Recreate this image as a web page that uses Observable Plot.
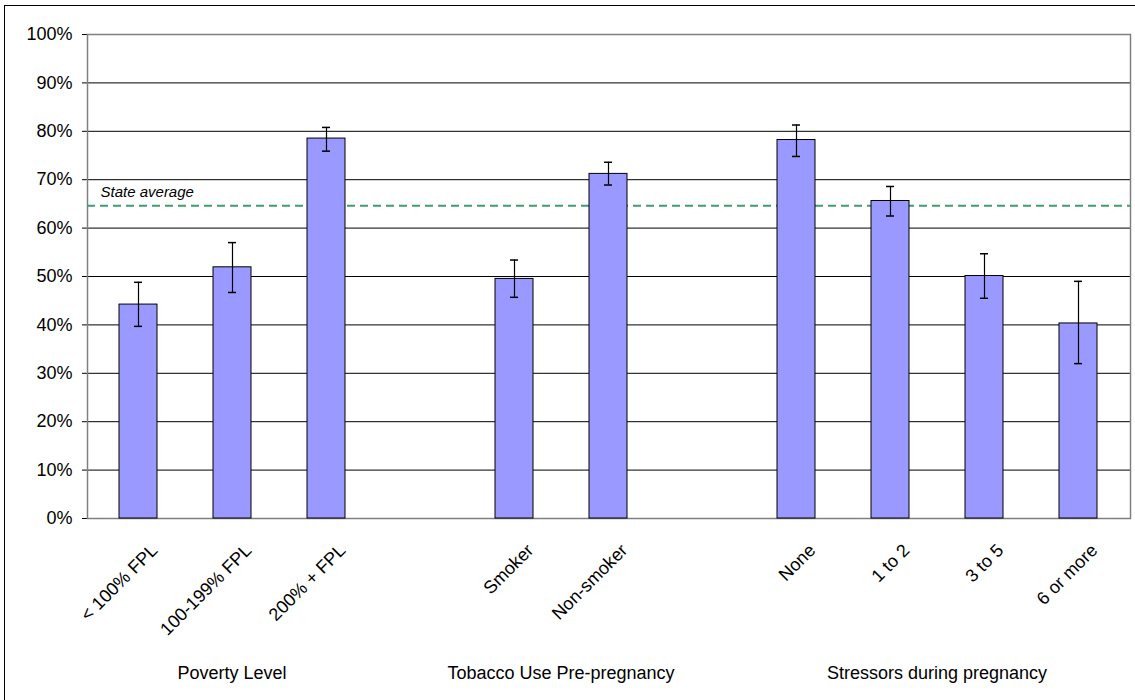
<!DOCTYPE html>
<html>
<head>
<meta charset="utf-8">
<script src="https://cdn.jsdelivr.net/npm/d3@7"></script>
<script src="https://cdn.jsdelivr.net/npm/@observablehq/plot@0.6"></script>
<style>
  html, body { margin: 0; padding: 0; background: #fff; }
  #wrap { position: relative; width: 1135px; height: 700px; overflow: hidden; }
  #border { position: absolute; left: 4px; top: 5px; width: 1200px; height: 800px;
            border-left: 1px solid #000; border-top: 1px solid #000; pointer-events: none; }
  #chart { position: absolute; left: 0; top: 0; }
</style>
</head>
<body>
<div id="wrap"><div id="chart"></div><div id="border"></div></div>
<script>
// ---- data ----
const categories = ["< 100% FPL", "100-199% FPL", "200% + FPL", "Smoker", "Non-smoker", "None", "1 to 2", "3 to 5", "6 or more"];
const groupOf = ["Poverty Level", "Poverty Level", "Poverty Level",
  "Tobacco Use Pre-pregnancy", "Tobacco Use Pre-pregnancy",
  "Stressors during pregnancy", "Stressors during pregnancy", "Stressors during pregnancy", "Stressors during pregnancy"];
const values = [44.2, 51.9, 78.5, 49.5, 71.2, 78.2, 65.6, 50.1, 40.3];
const lower  = [39.7, 46.7, 75.9, 45.7, 68.9, 74.8, 62.5, 45.5, 32.0];
const upper  = [48.8, 57.0, 80.8, 53.4, 73.6, 81.3, 68.6, 54.7, 49.0];
const stateAverage = 64.6;
const stateLabel = "State average";
const groupNames = ["Poverty Level", "Tobacco Use Pre-pregnancy", "Stressors during pregnancy"];
const yTicks = [0, 10, 20, 30, 40, 50, 60, 70, 80, 90, 100];
const gridTicks = [10, 20, 30, 40, 50, 60, 70, 80, 90];

// ---- build table ----
const rows = categories.map((c, i) => ({category: c, group: groupOf[i], value: values[i], lo: lower[i], hi: upper[i]}));
// x domain with an empty slot between groups
const domain = [];
let gapN = 0;
rows.forEach((r, i) => {
  if (i > 0 && r.group !== rows[i - 1].group) domain.push("__gap" + (gapN++));
  domain.push(r.category);
});

const font = "'Liberation Sans', Arial, sans-serif";

// group labels drawn via a function mark using the plot's own x scale
function groupLabels(index, scales, vals, dims) {
  const g = d3.create("svg:g");
  const bw = scales.x.bandwidth ? scales.x.bandwidth() : 0;
  groupNames.forEach(name => {
    const xs = rows.filter(r => r.group === name).map(r => scales.x(r.category) + bw / 2);
    const cx = d3.mean(xs);
    g.append("text")
      .attr("x", cx)
      .attr("y", dims.height - dims.marginBottom + 155)
      .attr("text-anchor", "middle")
      .attr("dy", "0.32em")
      .attr("font-size", 18)
      .attr("fill", "#000")
      .text(name);
  });
  return g.node();
}

const chart = Plot.plot({
  width: 1135,
  height: 700,
  marginTop: 34,
  marginLeft: 87,
  marginRight: 5,
  marginBottom: 182,
  style: {fontFamily: font, fontSize: "18px", color: "#000", background: "transparent", overflow: "visible"},
  x: {domain, axis: null, paddingInner: 0.595, paddingOuter: 0.2975},
  y: {domain: [0, 100], ticks: yTicks, tickFormat: d => d + "%", tickSize: 5, tickPadding: 10, label: null},
  marks: [
    Plot.ruleY(gridTicks, {stroke: "#000", strokeWidth: 1}),
    Plot.frame({stroke: "#808080", strokeWidth: 1.5}),
    Plot.ruleY([stateAverage], {stroke: "#3E9E6E", strokeWidth: 2, strokeDasharray: "8,5"}),
    Plot.text([stateLabel], {frameAnchor: "left", y: () => stateAverage, text: d => d, dx: 13, dy: -14, textAnchor: "start", fontSize: 15, fontStyle: "italic", fill: "#000"}),
    Plot.barY(rows, {x: "category", y: "value", fill: "#9999FF", stroke: "#000", strokeWidth: 1}),
    Plot.ruleX(rows, {x: "category", y1: "lo", y2: "hi", stroke: "#000", strokeWidth: 1.2}),
    Plot.tickY(rows, {x: "category", y: "lo", stroke: "#000", strokeWidth: 1.5, inset: 15}),
    Plot.tickY(rows, {x: "category", y: "hi", stroke: "#000", strokeWidth: 1.5, inset: 15}),
    Plot.text(rows, {x: "category", text: "category", frameAnchor: "bottom", rotate: -45, textAnchor: "end", dx: 20, dy: 33, fontSize: 18, fill: "#000"}),
    groupLabels
  ]
});
document.getElementById("chart").appendChild(chart);
</script>
</body>
</html>
